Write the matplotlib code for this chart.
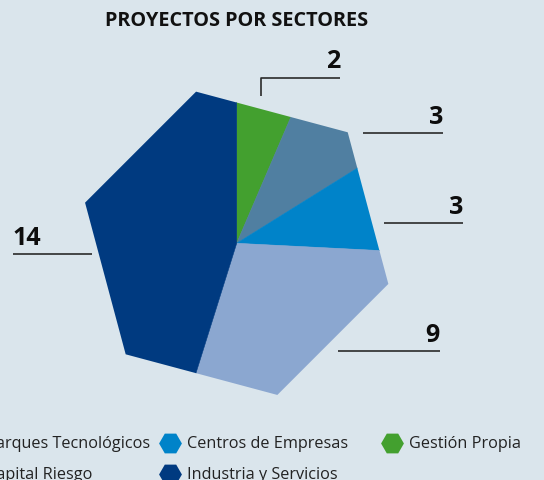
import numpy as np
import matplotlib
matplotlib.use("Agg")
import matplotlib.pyplot as plt
from matplotlib.patches import Polygon

# =========================
# DATA
# =========================
title = "PROYECTOS POR SECTORES"
sectors = ["Gestión Propia", "Parques Tecnológicos", "Centros de Empresas",
           "Capital Riesgo", "Industria y Servicios"]
values = [2, 3, 3, 9, 14]
colors = ["#43a02f", "#507fa1", "#0083c9", "#8ba7d0", "#003a80"]
legend_order = [1, 2, 0, 3, 4]

# =========================
# LAYOUT (pixels, y from top)
# =========================
W, H = 544, 481
BG = "#dae5ec"
CX, CY, R_HEX = 236.7, 244.3, 157
# (line points, label x, label y, align) per slice
label_layout = [
    ([(260.7, 97), (260.7, 79.3), (339.5, 79.3)], 340, 62, "right"),
    ([(363, 134), (443, 134)], 443, 117.5, "right"),
    ([(384, 224), (463, 224)], 463, 208, "right"),
    ([(338, 352.3), (440, 352.3)], 440, 336, "right"),
    ([(13, 255.3), (92, 255.3)], 12, 239, "left"),
]
legend_x = [-31, 170, 392]
legend_y = [444, 475]

plt.rcParams['font.family'] = ['Open Sans', 'DejaVu Sans']


def fy(y):
    return H - y


def main():
    fig = plt.figure(figsize=(W / 100, H / 100), dpi=100, facecolor=BG)
    ax = fig.add_axes([0, 0, 1, 1])
    ax.set_facecolor(BG)

    wedges, _ = ax.pie(values, colors=colors, startangle=90, counterclock=False,
                       radius=220, center=(CX, fy(CY)),
                       wedgeprops=dict(linewidth=0.4))
    ax.set_xlim(0, W)
    ax.set_ylim(0, H)
    ax.set_aspect("auto")

    # hexagonal outline used as clip for the pie
    ang = np.radians(15 + 90 + 60 * np.arange(6))
    hex_pts = np.column_stack([CX + R_HEX * np.cos(ang), fy(CY) + R_HEX * np.sin(ang)])
    hexagon = Polygon(hex_pts, closed=True, facecolor="none", edgecolor="none")
    ax.add_patch(hexagon)
    for w, c in zip(wedges, colors):
        w.set_edgecolor(c)
        w.set_clip_on(True)
        w.set_clip_path(hexagon)

    # value labels with leader lines
    for v, (pts, lx, ly, ha) in zip(values, label_layout):
        xs = [p[0] for p in pts]
        ys = [fy(p[1]) for p in pts]
        ax.plot(xs, ys, color="#2a2a2a", lw=1.2, solid_capstyle="butt")
        ax.text(lx, fy(ly), str(v), ha=ha, va="center", fontsize=18,
                fontweight="bold", color="#0d0d0d")

    ax.text(237, fy(20.5), title, ha="center", va="center", fontsize=14.3,
            fontweight="bold", color="#111111")

    # legend, row by row
    for k, i in enumerate(legend_order):
        col, row = k % 3, k // 3
        x, y = legend_x[col], fy(legend_y[row])
        ax.scatter([x], [y], marker="H", s=270, color=colors[i], linewidths=0)
        ax.text(x + 17, y, sectors[i], ha="left", va="center", fontsize=11.7,
                color="#222222")

    ax.axis("off")
    fig.savefig("out.png", dpi=100, facecolor=BG)


if __name__ == "__main__":
    main()
